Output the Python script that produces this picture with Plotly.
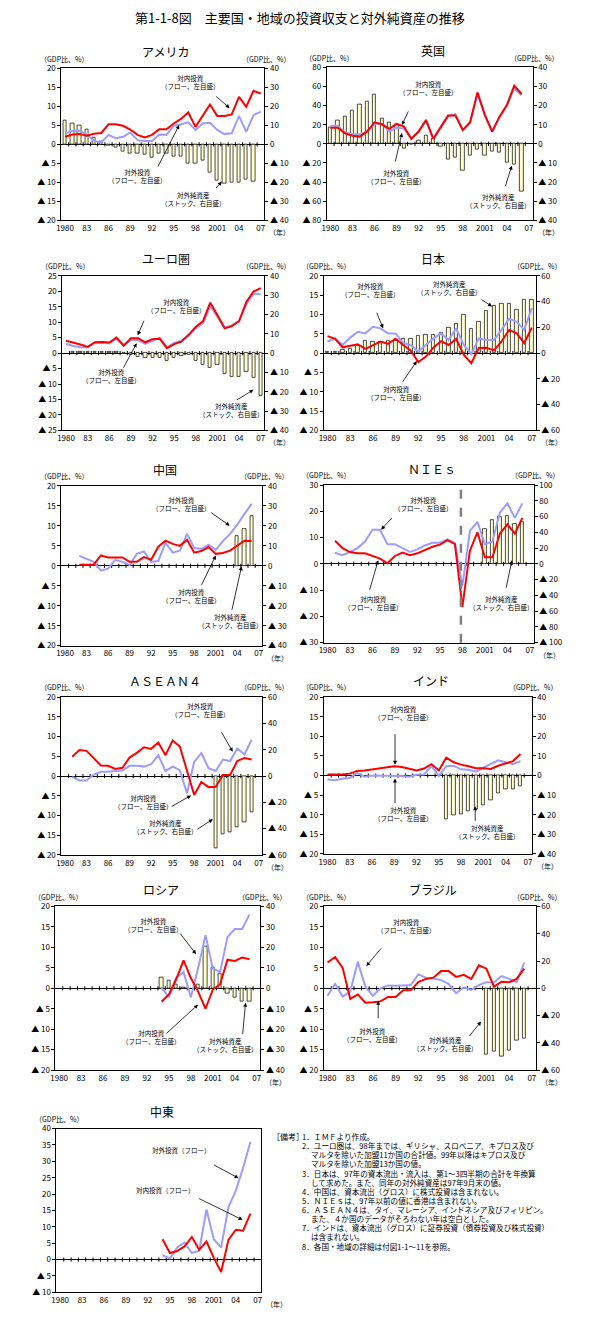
import plotly.graph_objects as go

W, H = 595, 1329
FONT = "Noto Sans CJK JP"
RED = "#FF0000"
BLUE = "#9C9CFF"
BAR_FILL = "#FFFFC8"

YEARS = list(range(1980, 2008))
X_TICKS = [1980, 1983, 1986, 1989, 1992, 1995, 1998, 2001, 2004, 2007]
X_LABELS = ["1980", "83", "86", "89", "92", "95", "98", "2001", "04", "07"]

# ── data (GDP比, %) : 対内投資 / 対外投資 は左目盛, 対外純資産 は右目盛 ──
us_years = list(range(1980, 2008))
us_inflow = [2.0, 2.6, 2.7, 2.3, 2.8, 3.0, 5.3, 5.3, 4.9, 3.9,
             2.5, 1.8, 2.5, 4.0, 4.0, 5.5, 6.7, 8.4, 4.6, 7.7,
             10.5, 7.5, 7.5, 7.9, 12.5, 9.9, 14.1, 13.4]
us_outflow = [2.9, 3.5, 3.6, 2.6, 0.9, 0.5, 2.5, 1.6, 2.0, 3.1,
              1.1, 0.9, 0.9, 2.6, 2.5, 4.9, 5.3, 5.8, 3.8, 5.5,
              5.7, 3.8, 2.7, 2.9, 7.5, 3.3, 7.7, 8.6]
us_bar_years = list(range(1980, 2007))
us_nfa = [12.6, 11.2, 10.2, 8.0, 3.8, 1.6, -0.6, -1.6, -3.6, -5.0,
          -4.6, -5.6, -7.0, -5.0, -5.0, -6.6, -6.6, -10.0, -10.0, -8.6,
          -15.0, -19.2, -20.4, -20.0, -20.0, -18.4, -19.6]

uk_years = list(range(1980, 2007))
uk_inflow = [17, 17, 11, 8.5, 7.6, 13, 22.6, 20.5, 15.7, 20.9,
             18.1, 5.2, 12.9, 25, 5.2, 17, 29.6, 29.6, 14.6, 22.6,
             53.9, 30.3, 12.9, 28.5, 40.7, 60.9, 52.2]
uk_outflow = [19, 19, 12, 10, 10, 13, 21, 21, 13, 17,
              16, 5.5, 13, 24, 5.5, 17, 29, 31, 14, 22,
              53, 30, 12.5, 28, 40, 58, 51]
uk_bar_years = list(range(1980, 2007))
uk_nfa = [8.5, 12.5, 14.5, 17.5, 20.5, 22, 26, 13.5, 11, 10,
          -2.5, -0.5, 2, 4.5, 3, -1.5, -8, -7, -14, -6,
          -3, -6, -4, -4.5, -10, -11, -25]

eu_years = list(range(1980, 2008))
eu_inflow = [4.0, 3.5, 2.8, 2.0, 3.5, 3.6, 3.4, 5.0, 2.4, 4.8,
             4.8, 3.5, 4.5, 4.6, 1.6, 2.9, 3.7, 5.9, 8.5, 10.3,
             16.3, 12.2, 8.0, 8.7, 10.3, 16.5, 19.9, 21.0]
eu_outflow = [3.0, 2.3, 1.9, 1.9, 3.3, 3.4, 3.2, 4.6, 2.6, 4.2,
              4.2, 3.0, 4.0, 5.0, 1.8, 3.3, 4.0, 5.7, 8.0, 9.7,
              15.2, 11.5, 8.2, 8.9, 10.5, 15.8, 19.2, 19.0]
eu_bar_years = list(range(1981, 2008))
eu_nfa = [0.8, 0.5, 0.8, 0.8, 0.6, 0.6, 0.8, -0.3, -1.1,
          -2.1, -2.6, -2.4, -2.6, -3.7, -2.2, -1.6, -0.6, -4.2, -6.2,
          -7.8, -5.8, -10.9, -12.2, -12.0, -9.8, -12.5, -22.0]

jp_years = list(range(1980, 2008))
jp_inflow = [4.4, 3.7, 1.5, 2.0, 2.3, 1.1, 2.1, 3.0, 2.4, 3.7,
             2.1, 0.6, -2.3, -0.9, 1.4, 3.1, 2.1, 3.7, -0.4, -2.6,
             1.3, 1.4, 0.7, 3.0, 6.0, 5.1, 2.6, 6.6]
jp_outflow = [3.0, 3.8, 2.1, 4.0, 5.5, 5.1, 6.8, 6.4, 5.1, 5.1,
              2.6, 2.1, 0.4, 2.1, 3.8, 5.1, 3.4, 6.4, 2.1, -0.3,
              3.8, 3.4, 3.4, 6.0, 8.9, 8.1, 6.0, 11.7]
jp_bar_years = list(range(1980, 2008))
jp_nfa = [1.3, 1.3, 2.6, 3.0, 5.7, 9.6, 9.0, 9.0, 9.6, 9.6,
          11.0, 11.0, 13.5, 14.0, 14.0, 15.6, 19.5, 22.5, 30.0, 18.6,
          24.6, 33.0, 37.0, 38.0, 38.4, 34.0, 41.7, 41.7]

cn_years = list(range(1982, 2007))
cn_inflow = [0.3, 0.3, 0.3, 2.6, 2.1, 2.1, 2.1, 1.0, 1.0, 2.2,
             1.5, 4.8, 6.3, 5.5, 5.0, 6.5, 3.3, 3.7, 4.7, 3.0,
             3.2, 3.8, 5.0, 6.3, 6.2]
cn_outflow = [2.5, 1.8, 1.0, -1.2, -0.7, 1.5, 1.0, 0.2, 3.0, 3.6,
              1.0, 1.2, 5.8, 3.3, 3.8, 8.0, 4.5, 4.2, 5.3, 4.0,
              6.2, 8.0, 10.3, 13.0, 15.5]
cn_bar_years = [2004, 2005, 2006]
cn_nfa = [15.0, 18.4, 25.0]

nies_years = list(range(1981, 2007))
nies_inflow = [8.8, 6.0, 4.5, 4.0, 4.0, 3.0, 2.0, 0.2, 3.0, 4.3,
               3.3, 4.0, 5.3, 6.5, 7.3, 9.0, 7.5, -16.5, 5.0, 12.0,
               2.5, 2.5, 11.5, 15.0, 11.5, 17.5]
nies_outflow = [4.2, 3.3, 4.5, 6.0, 8.5, 13.0, 13.0, 7.5, 7.5, 6.0,
                4.5, 5.5, 7.0, 8.0, 8.0, 9.3, 8.0, -8.5, 12.5, 16.0,
                7.5, 8.5, 19.5, 23.0, 17.5, 23.0]
nies_bar_years = list(range(2001, 2007))
nies_nfa = [44, 55, 60, 61, 51, 52.5]

as_years = list(range(1981, 2007))
as_inflow = [4.9, 6.6, 6.4, 4.6, 2.7, 2.6, 1.8, 2.1, 4.7, 5.9,
             7.3, 6.9, 8.5, 5.3, 9.0, 7.5, 1.1, -4.8, -1.5, -2.8,
             -2.7, 0.3, 0.3, 3.8, 4.6, 4.2]
as_outflow = [-0.2, -1.1, -1.1, 0.4, 1.1, 1.1, 1.3, 1.4, 2.6, 2.6,
              2.4, 3.0, 5.3, 1.3, 2.4, 1.5, -4.4, 3.6, 5.8, 2.0,
              1.3, 4.2, 3.8, 7.0, 5.5, 9.2]
as_bar_years = list(range(2001, 2007))
as_nfa = [-55, -44.4, -42.9, -39.3, -35.3, -27.7]

in_years = list(range(1980, 2007))
in_inflow = [0.3, 0.3, 0.3, 0.5, 1.2, 1.3, 1.6, 1.8, 2.1, 2.4,
             2.2, 1.8, 1.3, 1.8, 2.9, 1.3, 4.6, 3.4, 2.8, 2.4,
             1.9, 1.9, 1.7, 2.5, 3.2, 3.7, 5.5]
in_outflow = [-1.0, -1.2, -0.8, -0.6, 0.7, -0.3, 0.0, 0.0, 0.0, 0.0,
              -0.1, -0.3, 0.2, 0.3, 2.4, -0.1, 2.4, 2.5, 1.6, 1.5,
              1.0, 2.0, 3.0, 3.9, 3.4, 2.9, 3.7]
in_bar_years = list(range(1996, 2007))
in_nfa = [-22.4, -20.0, -19.5, -18.1, -17.0, -14.9, -12.7, -8.8, -6.8, -6.8, -5.6]

ru_years = list(range(1994, 2007))
ru_inflow = [-3.3, -1.5, 2.2, 6.8, 2.5, -0.8, -5.0, -0.3, 1.0, 7.0, 6.7, 7.5, 7.1]
ru_outflow = [0.1, -2.2, 2.6, 4.0, -2.2, 5.0, 13.0, 4.8, 4.0, 12.5, 14.5, 14.5, 18.0]
ru_bar_years = list(range(1994, 2007))
ru_nfa = [5.4, 4.0, 1.8, 0.6, None, 2.0, 20.4, 10.0, 7.4, -2.6, -4.6, -6.4, -6.4]

br_years = list(range(1980, 2007))
br_inflow = [6.3, 7.6, 5.0, -2.6, -1.5, -3.5, -3.4, -3.2, -2.1, -2.1,
             -0.5, -0.5, 1.5, 2.3, 2.6, 4.2, 4.2, 2.8, 3.3, 2.3,
             5.6, 4.8, 0.4, 1.6, 1.5, 2.3, 4.8]
br_outflow = [-1.8, 1.1, -2.0, -0.8, 6.5, 0.4, -1.8, 0.0, 0.7, 0.6,
              0.7, 0.8, 3.4, 2.6, 2.4, 2.0, 1.1, -1.2, 0.2, -0.4,
              0.8, 1.5, 1.4, 3.0, 2.3, 1.5, 6.3]
br_bar_years = list(range(2001, 2007))
br_nfa = [-48.3, -46.3, -50.0, -45.6, -38.3, -37.1]

me_years = list(range(1994, 2007))
me_inflow = [6.2, 2.0, 2.6, 4.0, 6.9, 3.0, 5.5, 0.5, -3.8, 6.0, 9.1, 8.8, 14.0]
me_outflow = [1.3, 0.3, 3.7, 5.2, 2.0, 2.7, 15.3, 6.2, 3.7, 16.0, 21.0, 28.0, 36.0]

IN_TXT = "対内投資<br>（フロー、左目盛）"
OUT_TXT = "対外投資<br>（フロー、左目盛）"
NFA_TXT = "対外純資産<br>（ストック、右目盛）"

# box = (left, top, right, bottom) in page pixels; labels/arrows in page pixels
PANELS = [
    dict(name="アメリカ", box=(57, 63, 262, 216), left=(-20, 20, 5), right=(-40, 40, 10),
         years=us_years, inflow=us_inflow, outflow=us_outflow, bar_years=us_bar_years, nfa=us_nfa,
         labels=[(IN_TXT, 187, 77), (OUT_TXT, 133, 171), (NFA_TXT, 190, 195)],
         arrows=[(212, 90, 227, 103), (154, 163, 176, 120), (212, 185, 219, 177)]),
    dict(name="英国", box=(325, 62, 533, 216), left=(-80, 80, 20), right=(-40, 40, 10),
         years=uk_years, inflow=uk_inflow, outflow=uk_outflow, bar_years=uk_bar_years, nfa=uk_nfa,
         labels=[(IN_TXT, 427, 83), (OUT_TXT, 395, 172), (NFA_TXT, 498, 197)],
         arrows=[(408, 105, 401, 120), (394, 158, 401, 128), (505, 183, 512, 161)]),
    dict(name="ユーロ圏", box=(58, 272, 262, 428), left=(-25, 25, 5), right=(-40, 40, 10),
         years=eu_years, inflow=eu_inflow, outflow=eu_outflow, bar_years=eu_bar_years, nfa=eu_nfa,
         labels=[(IN_TXT, 173, 302), (OUT_TXT, 107, 373), (NFA_TXT, 228, 407)],
         arrows=[(141, 316, 134, 332), (119, 366, 133, 340), (233, 398, 251, 387)]),
    dict(name="日本", box=(322, 272, 536, 428), left=(-20, 20, 5), right=(-60, 60, 20),
         years=jp_years, inflow=jp_inflow, outflow=jp_outflow, bar_years=jp_bar_years, nfa=jp_nfa,
         labels=[(OUT_TXT, 369, 286), (NFA_TXT, 449, 284), (IN_TXT, 395, 390)],
         arrows=[(375, 308, 382, 325), (480, 295, 492, 303), (401, 380, 416, 358)]),
    dict(name="中国", box=(57, 484, 260, 645), left=(-20, 20, 5), right=(-40, 40, 10),
         years=cn_years, inflow=cn_inflow, outflow=cn_outflow, bar_years=cn_bar_years, nfa=cn_nfa,
         labels=[(OUT_TXT, 178, 502), (IN_TXT, 188, 595), (NFA_TXT, 227, 620)],
         arrows=[(207, 510, 227, 524), (198, 585, 213, 554), (229, 610, 239, 565)]),
    dict(name="ＮＩＥｓ", box=(322, 483, 534, 642), left=(-30, 30, 10), right=(-100, 100, 20),
         years=nies_years, inflow=nies_inflow, outflow=nies_outflow, bar_years=nies_bar_years,
         nfa=nies_nfa, divider=1997.8,
         labels=[(OUT_TXT, 422, 502), (IN_TXT, 372, 602), (NFA_TXT, 501, 602)],
         arrows=[(392, 515, 380, 528), (368, 590, 377, 559), (506, 588, 512, 559)]),
    dict(name="ＡＳＥＡＮ４", box=(57, 697, 260, 856), left=(-20, 20, 5), right=(-60, 60, 20),
         years=as_years, inflow=as_inflow, outflow=as_outflow, bar_years=as_bar_years, nfa=as_nfa,
         labels=[(OUT_TXT, 197, 710), (IN_TXT, 139, 803), (NFA_TXT, 162, 828)],
         arrows=[(218, 731, 230, 752), (167, 808, 188, 796), (193, 831, 210, 820)]),
    dict(name="インド", box=(322, 697, 532, 855), left=(-20, 20, 5), right=(-40, 40, 10),
         years=in_years, inflow=in_inflow, outflow=in_outflow, bar_years=in_bar_years, nfa=in_nfa,
         labels=[(IN_TXT, 402, 713), (OUT_TXT, 402, 815), (NFA_TXT, 487, 833)],
         arrows=[(394, 733, 394, 765), (394, 805, 394, 779), (475, 823, 475, 807)]),
    dict(name="ロシア", box=(51, 908, 258, 1073), left=(-20, 20, 5), right=(-40, 40, 10),
         years=ru_years, inflow=ru_inflow, outflow=ru_outflow, bar_years=ru_bar_years, nfa=ru_nfa,
         labels=[(OUT_TXT, 150, 927), (IN_TXT, 147, 1040), (NFA_TXT, 222, 1048)],
         arrows=[(176, 934, 193, 956), (162, 1037, 195, 1007), (240, 1038, 243, 1005)]),
    dict(name="ブラジル", box=(322, 908, 536, 1073), left=(-20, 20, 5), right=(-60, 60, 20),
         years=br_years, inflow=br_inflow, outflow=br_outflow, bar_years=br_bar_years, nfa=br_nfa,
         labels=[(IN_TXT, 405, 928), (OUT_TXT, 371, 1038), (NFA_TXT, 444, 1047)],
         arrows=[(381, 949, 365, 968), (377, 1022, 377, 1003), (468, 1040, 481, 1024)]),
    dict(name="中東", box=(52, 1132, 259, 1297), left=(-10, 40, 5), right=None,
         years=me_years, inflow=me_inflow, outflow=me_outflow, bar_years=None, nfa=None,
         labels=[("対外投資（フロー）", 178, 1154), ("対内投資（フロー）", 162, 1194)],
         arrows=[(210, 1168, 236, 1182), (195, 1202, 240, 1224)]),
]

NOTES = [
    (298, "1．ＩＭＦより作成。"),
    (298, "2．ユーロ圏は、98年までは、ギリシャ、スロベニア、キプロス及び"),
    (307, "マルタを除いた加盟11か国の合計値。99年以降はキプロス及び"),
    (307, "マルタを除いた加盟13か国の値。"),
    (298, "3．日本は、97年の資本流出・流入は、第1～3四半期の合計を年換算"),
    (307, "して求めた。また、同年の対外純資産は97年9月末の値。"),
    (298, "4．中国は、資本流出（グロス）に株式投資は含まれない。"),
    (298, "5．ＮＩＥｓは、97年以前の値に香港は含まれない。"),
    (298, "6．ＡＳＥＡＮ４は、タイ、マレーシア、インドネシア及びフィリピン。"),
    (307, "また、４か国のデータがそろわない年は空白とした。"),
    (298, "7．インドは、資本流出（グロス）に証券投資（債券投資及び株式投資）"),
    (307, "は含まれない。"),
    (298, "8．各国・地域の詳細は付図1-1～11を参照。"),
]


def px(x):
    return x / W


def py(y):
    return 1 - y / H


def tri(v):
    return f"▲ {-v}" if v < 0 else str(v)


def tick_spec(lo, hi, step):
    vals = list(range(lo, hi + 1, step))
    return vals, [tri(v) for v in vals]


def axis_name(prefix, k):
    return prefix if k == 1 else f"{prefix}{k}"


def label(text, x, y, size, anchor="center"):
    return dict(x=px(x), y=py(y), xref="paper", yref="paper", text=text,
                xanchor=anchor, yanchor="middle", showarrow=False, font=dict(size=size))


fig = go.Figure()
layout = {}
annotations = []
shapes = []
yk = 0

for i, p in enumerate(PANELS, start=1):
    x0, y0, x1, y1 = p["box"]
    xref = axis_name("x", i)
    ydom = [py(y1), py(y0)]
    has_bars = p["right"] is not None

    yk += 1
    base = yk
    if has_bars:
        yk += 1
        lines_ax = yk
    else:
        lines_ax = base

    layout[axis_name("xaxis", i)] = dict(
        domain=[px(x0), px(x1)], anchor=axis_name("y", base), range=[1979.5, 2007.5],
        tickvals=X_TICKS, ticktext=X_LABELS, ticks="", showgrid=False, zeroline=False,
        showline=True, mirror=True, linecolor="black", linewidth=1,
        tickfont=dict(size=8), fixedrange=True,
    )

    lv, lt = tick_spec(*p["left"])
    left_axis = dict(
        domain=ydom, anchor=xref, side="left", range=[p["left"][0], p["left"][1]],
        tickvals=lv, ticktext=lt, ticks="outside", ticklen=3, tickcolor="black",
        showgrid=False, zeroline=True, zerolinecolor="black", zerolinewidth=1,
        showline=True, linecolor="black", linewidth=1, tickfont=dict(size=8),
    )

    if has_bars:
        rv, rt = tick_spec(*p["right"])
        layout[axis_name("yaxis", base)] = dict(
            domain=ydom, anchor=xref, side="right", range=[p["right"][0], p["right"][1]],
            tickvals=rv, ticktext=rt, ticks="outside", ticklen=3, tickcolor="black",
            showgrid=False, zeroline=False, showline=True, linecolor="black", linewidth=1,
            tickfont=dict(size=8),
        )
        left_axis["overlaying"] = axis_name("y", base)
        layout[axis_name("yaxis", lines_ax)] = left_axis
        fig.add_trace(go.Bar(
            x=p["bar_years"], y=p["nfa"], width=0.45, xaxis=xref, yaxis=axis_name("y", base),
            marker=dict(color=BAR_FILL, line=dict(color="black", width=0.7)),
            showlegend=False, hoverinfo="skip",
        ))
    else:
        left_axis["mirror"] = True
        layout[axis_name("yaxis", base)] = left_axis

    ly = axis_name("y", lines_ax)
    # small year-boundary ticks on the zero line
    fig.add_trace(go.Scatter(
        x=[y + 0.5 for y in YEARS[:-1]], y=[0] * (len(YEARS) - 1), xaxis=xref, yaxis=ly,
        mode="markers", marker=dict(symbol="line-ns", size=3, line=dict(color="black", width=1)),
        showlegend=False, hoverinfo="skip",
    ))
    fig.add_trace(go.Scatter(
        x=p["years"], y=p["outflow"], xaxis=xref, yaxis=ly, mode="lines",
        line=dict(color=BLUE, width=2), showlegend=False,
    ))
    fig.add_trace(go.Scatter(
        x=p["years"], y=p["inflow"], xaxis=xref, yaxis=ly, mode="lines",
        line=dict(color=RED, width=2), showlegend=False,
    ))

    if "divider" in p:
        shapes.append(dict(
            type="line", xref=xref, yref=f"{axis_name('y', base)} domain",
            x0=p["divider"], x1=p["divider"], y0=0, y1=1,
            line=dict(color="#808080", width=2.5, dash="dash"),
        ))

    # panel title and unit labels
    annotations.append(label(p["name"], (x0 + x1) / 2 + 3, y0 - 17, 12))
    annotations.append(label("（GDP比、%）", x0 + 3, y0 - 10, 7))
    if has_bars:
        annotations.append(label("（GDP比、%）", x1 + 2, y0 - 10, 7))
    annotations.append(label("（年）", x1 + 3, y1 + 12, 7, anchor="left"))

    for text, tx, ty in p["labels"]:
        annotations.append(label(text, tx, ty, 6.5))
    for ax0, ay0, hx, hy in p["arrows"]:
        annotations.append(dict(
            x=px(hx), y=py(hy), xref="paper", yref="paper", text="",
            showarrow=True, ax=ax0 - hx, ay=ay0 - hy, arrowhead=2, arrowsize=1,
            arrowwidth=0.8, arrowcolor="black", standoff=0,
        ))

# 備考
annotations.append(label("［備考］", 268, 1140, 8, anchor="left"))
for k, (nx, line) in enumerate(NOTES):
    annotations.append(label(line, nx, 1140 + k * 9.2, 7.6, anchor="left"))

annotations.append(label("第1-1-8図　主要国・地域の投資収支と対外純資産の推移", W / 2, 12, 13))

fig.update_layout(
    width=W, height=H, margin=dict(l=0, r=0, t=0, b=0),
    paper_bgcolor="white", plot_bgcolor="white",
    font=dict(family=FONT, size=8, color="black"),
    showlegend=False, bargap=0,
    annotations=annotations, shapes=shapes,
    **layout,
)

fig.write_html("out.html", config={"displayModeBar": False},
               post_script="document.body.style.margin = '0';")
